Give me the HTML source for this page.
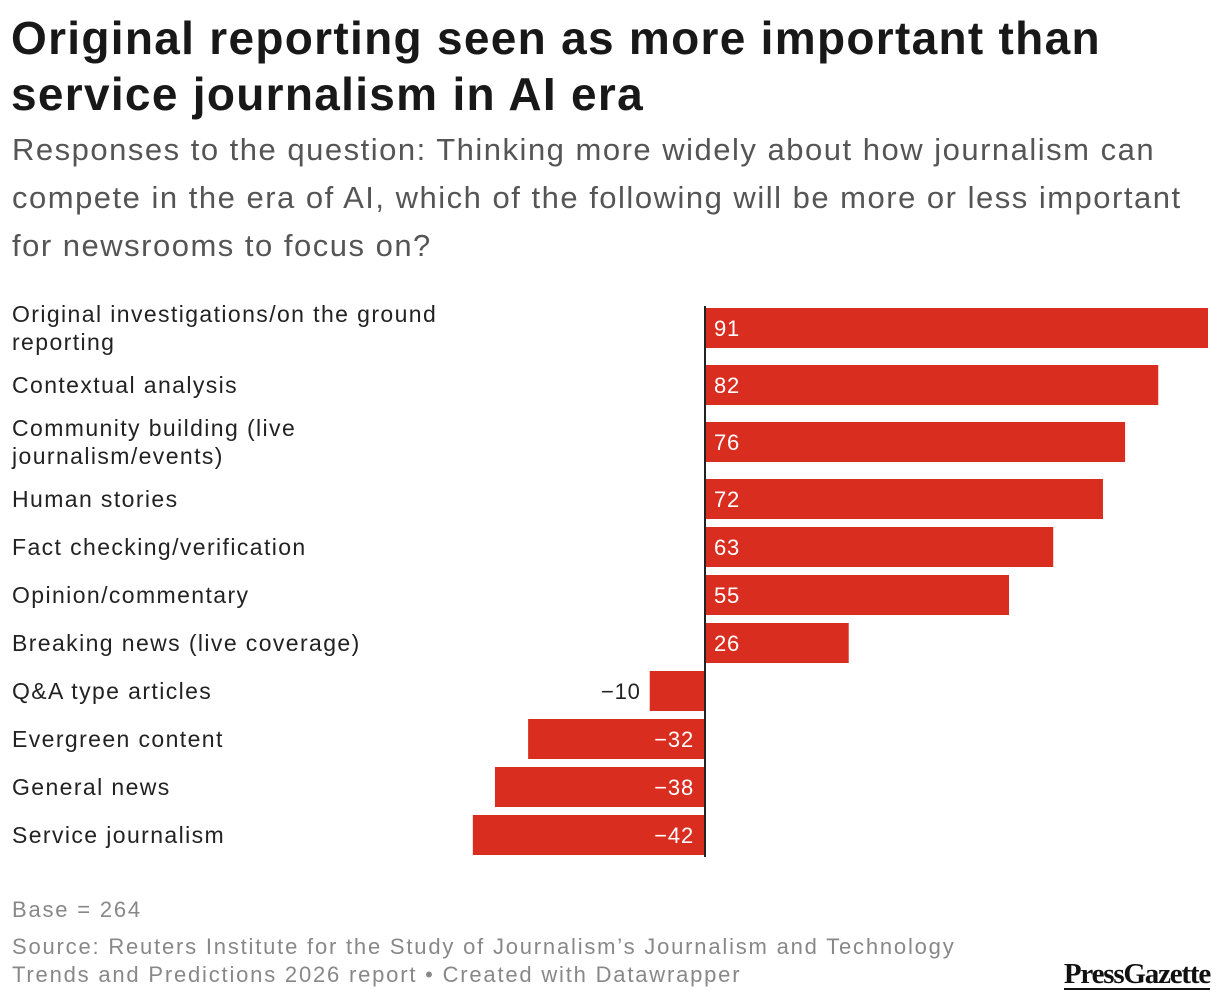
<!DOCTYPE html>
<html><head><meta charset="utf-8">
<style>
body{margin:0;width:1220px;height:1000px;background:#fff;font-family:"Liberation Sans",sans-serif;overflow:hidden;position:relative}
#title{position:absolute;left:11px;top:10px;font-size:46px;font-weight:bold;line-height:56px;color:#181818;letter-spacing:1.3px;white-space:nowrap}
#sub{position:absolute;left:12px;top:126px;font-size:31px;line-height:48px;color:#555;letter-spacing:1.5px;white-space:nowrap}
.foot{position:absolute;left:12px;font-size:22px;color:#888;line-height:28px;letter-spacing:1.8px;white-space:nowrap}
#logo{position:absolute;right:10px;top:960px;font-family:"Liberation Serif",serif;font-weight:bold;font-size:29px;color:#111;letter-spacing:-1.2px;border-bottom:2px solid #111;line-height:28px}
svg text{font-family:"Liberation Sans",sans-serif}
</style></head><body>
<div id="title">Original reporting seen as more important than<br>service journalism in AI era</div>
<div id="sub">Responses to the question: Thinking more widely about how journalism can<br>compete in the era of AI, which of the following will be more or less important<br>for newsrooms to focus on?</div>
<svg id="chart" width="1220" height="1000" style="position:absolute;left:0;top:0"></svg>
<div class="foot" style="top:896px">Base = 264</div>
<div class="foot" style="top:933px">Source: Reuters Institute for the Study of Journalism’s Journalism and Technology<br>Trends and Predictions 2026 report • Created with Datawrapper</div>
<div id="logo">PressGazette</div>
<script>
const categories=["Original investigations/on the ground\nreporting","Contextual analysis","Community building (live\njournalism/events)","Human stories","Fact checking/verification","Opinion/commentary","Breaking news (live coverage)","Q&A type articles","Evergreen content","General news","Service journalism"];
const values=[91,82,76,72,63,55,26,-10,-32,-38,-42];
const NS="http://www.w3.org/2000/svg";
const svg=document.getElementById('chart');
const zeroX=705,scale=503/91;
function x(v){return zeroX+v*scale;}
function mk(t,a){const e=document.createElementNS(NS,t);for(const k in a)e.setAttribute(k,a[k]);svg.appendChild(e);return e;}
let y=299;
categories.forEach((c,i)=>{
  const lines=c.split("\n");
  const h=lines.length==2?58:40;
  const cy=y+h/2;
  const v=values[i];
  const r=mk('rect',{x:Math.min(x(0),x(v)),y:cy-20,width:Math.abs(x(v)-x(0)),height:40,fill:'#d92d20'});
  
  
  const lt=mk('text',{x:12,y:cy-(lines.length-1)*14+8,'font-size':23,fill:'#222','letter-spacing':1.4});
  
  
  lines.forEach((l,j)=>{const ts=document.createElementNS(NS,'tspan');ts.setAttribute('x',12);if(j)ts.setAttribute('dy',28);ts.textContent=l;lt.appendChild(ts);});
  const lab=(v<0?'\u2212':'')+Math.abs(v);
  let attrs;
  if(v>=0) attrs={x:x(0)+9,y:cy+8,fill:'#fff','text-anchor':'start'};
  else if(Math.abs(x(v)-x(0))<70) attrs={x:x(v)-9,y:cy+8,fill:'#222','text-anchor':'end'};
  else attrs={x:x(0)-11,y:cy+8,fill:'#fff','text-anchor':'end'};
  attrs['font-size']=22;
  attrs['letter-spacing']=0.8;
  const vt=mk('text',attrs);vt.textContent=lab;
  
  
  y+=h+8;
});
const ax=mk('line',{x1:zeroX,x2:zeroX,y1:306,y2:y-6,stroke:'#222','stroke-width':2});


</script>
</body></html>
